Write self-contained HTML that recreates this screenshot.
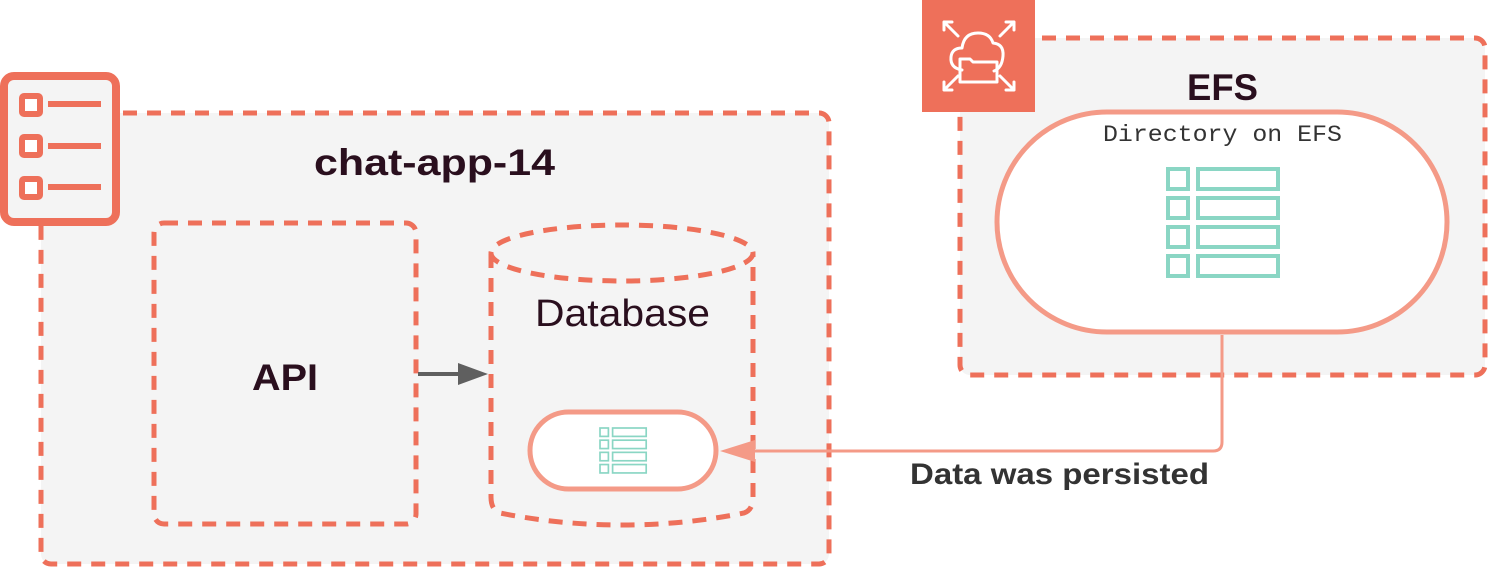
<!DOCTYPE html>
<html><head><meta charset="utf-8"><style>html,body{margin:0;padding:0;background:#fff}svg{display:block}</style></head>
<body>
<svg width="1488" height="568" viewBox="0 0 1488 568" xmlns="http://www.w3.org/2000/svg" font-family="Liberation Sans, sans-serif">
<defs>
<g id="tbl">
<rect x="0" y="0" width="20" height="20" fill="none" stroke="#8ad6c4" stroke-width="4"/>
<rect x="30" y="0" width="80" height="20" fill="none" stroke="#8ad6c4" stroke-width="4"/>
</g>
</defs>
<rect x="41" y="113" width="788" height="451" rx="10" fill="#f4f4f4" stroke="#ee705a" stroke-width="5" stroke-dasharray="14 10"/>
<rect x="4" y="76" width="112" height="146" rx="10" fill="#f4f4f4" stroke="#ee705a" stroke-width="8"/>
<g fill="#fff" stroke="#ee705a" stroke-width="6">
<rect x="22" y="96" width="18" height="18" rx="2"/>
<rect x="22" y="137" width="18" height="18" rx="2"/>
<rect x="22" y="179" width="18" height="18" rx="2"/>
</g>
<g stroke="#ee705a" stroke-width="6">
<line x1="48" y1="104" x2="101" y2="104"/>
<line x1="48" y1="146" x2="101" y2="146"/>
<line x1="48" y1="187" x2="101" y2="187"/>
</g>
<text x="314" y="175" font-size="37" font-weight="bold" fill="#2a0f1e" textLength="241" lengthAdjust="spacingAndGlyphs">chat-app-14</text>
<rect x="154" y="223" width="262" height="301" rx="10" fill="none" stroke="#ee705a" stroke-width="5" stroke-dasharray="14 10"/>
<text x="252" y="390" font-size="37" font-weight="bold" fill="#2a0f1e" textLength="66" lengthAdjust="spacingAndGlyphs">API</text>
<line x1="418" y1="374" x2="462" y2="374" stroke="#5f5f5f" stroke-width="4"/>
<polygon points="488,374 458,363 458,385" fill="#5f5f5f"/>
<path d="M491,254 L491,497 Q491,510 500,513 Q560,525 622,525 Q684,525 744,513 Q753,510 753,497 L753,254" fill="none" stroke="#ee705a" stroke-width="5" stroke-dasharray="14 10"/>
<ellipse cx="622" cy="253" rx="131" ry="28" fill="none" stroke="#ee705a" stroke-width="5" stroke-dasharray="14 10"/>
<text x="535" y="326" font-size="38" fill="#2a0f1e" textLength="175" lengthAdjust="spacingAndGlyphs">Database</text>
<rect x="530" y="412" width="186" height="77" rx="38.5" fill="#fff" stroke="#f49a87" stroke-width="5"/>
<g transform="translate(600,428) scale(0.42)">
<use href="#tbl"/><use href="#tbl" y="29"/><use href="#tbl" y="58"/><use href="#tbl" y="87"/>
</g>
<rect x="960" y="38" width="525" height="337" rx="10" fill="#f4f4f4" stroke="#ee705a" stroke-width="5" stroke-dasharray="14 10"/>
<rect x="922" y="0" width="113" height="112" fill="#ee705a"/>
<g fill="none" stroke="#fff" stroke-width="3" stroke-linecap="round" stroke-linejoin="round">
<path d="M944,22 L958,36 M944,22 L944,30 M944,22 L952,22"/>
<path d="M1014,22 L1000,36 M1014,22 L1014,30 M1014,22 L1006,22"/>
<path d="M944,90 L958,76 M944,90 L944,82 M944,90 L952,90"/>
<path d="M1014,90 L1000,76 M1014,90 L1014,82 M1014,90 L1006,90"/>
<path d="M962,70 Q950,68 951,57 Q952,48 962,48 Q964,33 978,33 Q990,33 993,43 Q1004,44 1003,56 Q1002,68 994,71"/>
<path d="M960,82 L960,59 L970,59 L973,62 L997,62 L997,82 Z"/>
</g>
<text x="1187" y="100" font-size="37" font-weight="bold" fill="#2a0f1e" textLength="71" lengthAdjust="spacingAndGlyphs">EFS</text>
<rect x="997" y="112" width="450" height="220" rx="110" fill="#fff" stroke="#f49a87" stroke-width="5"/>
<text x="1103" y="141" font-size="23" font-family="Liberation Mono, monospace" fill="#333" textLength="239" lengthAdjust="spacingAndGlyphs">Directory on EFS</text>
<g transform="translate(1168,169)">
<use href="#tbl"/><use href="#tbl" y="29"/><use href="#tbl" y="58"/><use href="#tbl" y="87"/>
</g>
<path d="M1222,335 L1222,442 Q1222,451 1213,451 L750,451" fill="none" stroke="#f49a87" stroke-width="3"/>
<polygon points="720,451 755,440 755,462" fill="#f49a87"/>
<text x="910" y="484" font-size="30" font-weight="bold" fill="#333" textLength="299" lengthAdjust="spacingAndGlyphs">Data was persisted</text>
</svg>
</body></html>
